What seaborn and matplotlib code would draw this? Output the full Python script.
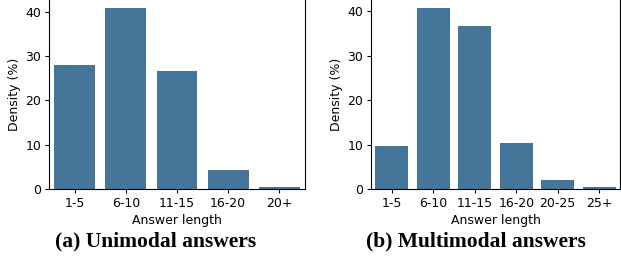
import pandas as pd
import matplotlib
matplotlib.use("Agg")
import matplotlib.pyplot as plt
import seaborn as sns

# answer length distributions (%)
uni_bins = ["1-5", "6-10", "11-15", "16-20", "20+"]
uni_density = [28.0, 40.9, 26.6, 4.3, 0.45]

multi_bins = ["1-5", "6-10", "11-15", "16-20", "20-25", "25+"]
multi_density = [9.7, 40.7, 36.6, 10.4, 2.0, 0.45]

bar_color = "#45769a"

uni = pd.DataFrame({"Answer length": uni_bins, "Density (%)": uni_density})
multi = pd.DataFrame({"Answer length": multi_bins, "Density (%)": multi_density})

fs = 9

fig = plt.figure(figsize=(6.21, 2.6), dpi=100)
ax1 = fig.add_axes([49 / 621, 71 / 260, 256 / 621, 189 / 260 + 0.004])
ax2 = fig.add_axes([371 / 621, 71 / 260, 249 / 621, 189 / 260 + 0.004])

sns.barplot(data=uni, x="Answer length", y="Density (%)", color=bar_color,
            saturation=1, ax=ax1)
sns.barplot(data=multi, x="Answer length", y="Density (%)", color=bar_color,
            saturation=1, ax=ax2)

for ax in (ax1, ax2):
    ax.tick_params(labelsize=fs, length=3, width=0.8, pad=2.5)
    ax.set_xlabel("Answer length", fontsize=fs, labelpad=3)
    ax.set_ylabel("Density (%)", fontsize=fs, labelpad=3)
    ax.set_yticks([0, 10, 20, 30, 40])
    for s in ax.spines.values():
        s.set_linewidth(0.8)

# subfigure captions
fig.text(156 / 621, 1 - 241 / 260, "(a) Unimodal answers", ha="center", va="center",
         fontsize=15.5, fontweight="bold", family="Liberation Serif")
fig.text(476 / 621, 1 - 241 / 260, "(b) Multimodal answers", ha="center", va="center",
         fontsize=15.5, fontweight="bold", family="Liberation Serif")

fig.savefig("out.png", dpi=100)
